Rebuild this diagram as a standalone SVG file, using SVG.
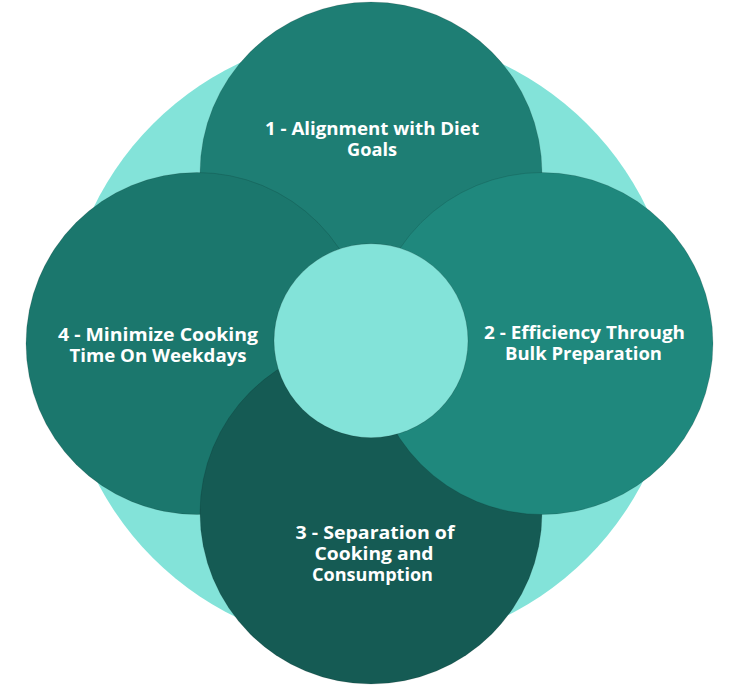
<svg xmlns="http://www.w3.org/2000/svg" width="740" height="686" viewBox="0 0 740 686">
  <style>
    .lbl { font-family: "Open Sans", Lato, "Liberation Sans", sans-serif; font-weight: 700; font-size: 17px; fill: #ffffff; text-anchor: middle; }
    .petal { stroke: rgba(0,0,0,0.12); stroke-width: 1; }
  </style>
  <rect width="740" height="686" fill="#ffffff"/>
  <g id="background">
    <circle cx="370" cy="341" r="307" fill="#83E3D9"/>
  </g>
  <g id="node-1">
    <circle class="petal" cx="371" cy="173" r="171" fill="#1E7E74"/>
    <text class="lbl" x="372" y="134.5" textLength="214" lengthAdjust="spacingAndGlyphs">1 - Alignment with Diet</text>
    <text class="lbl" x="372" y="155.5" textLength="50" lengthAdjust="spacingAndGlyphs">Goals</text>
  </g>
  <g id="node-4">
    <circle class="petal" cx="197" cy="343.5" r="171" fill="#1B776D"/>
    <text class="lbl" x="158" y="340.5" textLength="200" lengthAdjust="spacingAndGlyphs">4 - Minimize Cooking</text>
    <text class="lbl" x="158" y="361.5" textLength="177" lengthAdjust="spacingAndGlyphs">Time On Weekdays</text>
  </g>
  <g id="node-3">
    <circle class="petal" cx="371" cy="513" r="171" fill="#155B54"/>
    <text class="lbl" x="375" y="538.5" textLength="159" lengthAdjust="spacingAndGlyphs">3 - Separation of</text>
    <text class="lbl" x="374" y="559.5" textLength="119" lengthAdjust="spacingAndGlyphs">Cooking and</text>
    <text class="lbl" x="372.5" y="580.5" textLength="121" lengthAdjust="spacingAndGlyphs">Consumption</text>
  </g>
  <g id="node-2">
    <circle class="petal" cx="542" cy="343.5" r="171" fill="#1F887D"/>
    <text class="lbl" x="584.5" y="338.5" textLength="201" lengthAdjust="spacingAndGlyphs">2 - Efficiency Through</text>
    <text class="lbl" x="583.5" y="359.5" textLength="157" lengthAdjust="spacingAndGlyphs">Bulk Preparation</text>
  </g>
  <g id="center">
    <circle cx="371" cy="340.7" r="97" fill="#83E3D9" stroke="rgba(0,0,0,0.15)" stroke-width="1"/>
  </g>
</svg>
